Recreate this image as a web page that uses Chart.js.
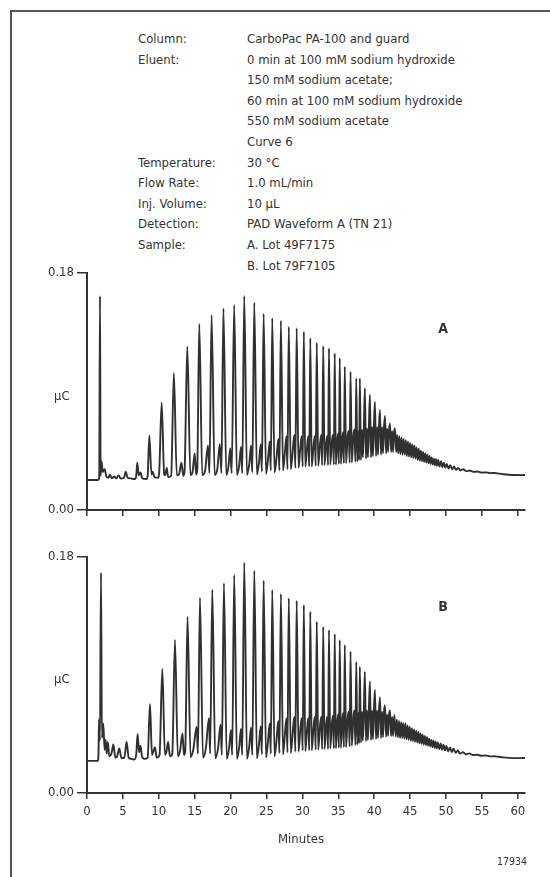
<!DOCTYPE html>
<html>
<head>
<meta charset="utf-8">
<script src="https://cdn.jsdelivr.net/npm/chart.js@4.4.0/dist/chart.umd.min.js"></script>
<style>
  html, body { margin: 0; padding: 0; background: #fff; }
  body {
    width: 550px; height: 877px; position: relative; overflow: hidden;
    font-family: "DejaVu Sans Condensed", "DejaVu Sans", sans-serif;
    font-stretch: condensed; color: #333;
  }
  .frame {
    position: absolute; left: 10px; top: 10px; width: 600px; height: 900px;
    border-left: 2px solid #555; border-top: 2px solid #555;
  }
  .txt { position: absolute; font-size: 13px; line-height: 1; white-space: nowrap; transform: translateY(-50%); }
  .tag { position: absolute; font-size: 14px; font-weight: bold; line-height: 1; transform: translate(-50%, -50%); }
  canvas { position: absolute; left: 0; }
</style>
</head>
<body>
<div class="frame"></div>
<div id="method"></div>

<canvas id="chartA" width="550" height="270" style="top:260px"></canvas>
<canvas id="chartB" width="550" height="300" style="top:545px"></canvas>

<div class="txt" style="left:54px; top:395px;">µC</div>
<div class="txt" style="left:54px; top:678px;">µC</div>
<div class="tag" style="left:443px; top:328px;">A</div>
<div class="tag" style="left:443px; top:606px;">B</div>
<div class="txt" style="left:278px; top:838px;">Minutes</div>
<div class="txt" style="left:497px; top:861px; font-size:10.5px;">17934</div>

<script>
// method block
const methodLabels = ['Column:', 'Eluent:', '', '', '', '', 'Temperature:', 'Flow Rate:', 'Inj. Volume:', 'Detection:', 'Sample:', ''];
const methodValues = [
  'CarboPac PA-100 and guard',
  '0 min at 100 mM sodium hydroxide',
  '150 mM sodium acetate;',
  '60 min at 100 mM sodium hydroxide',
  '550 mM sodium acetate',
  'Curve 6',
  '30 °C',
  '1.0 mL/min',
  '10 µL',
  'PAD Waveform A (TN 21)',
  'A. Lot 49F7175',
  'B. Lot 79F7105'
];

// axis ticks
const minuteTicks = [0, 5, 10, 15, 20, 25, 30, 35, 40, 45, 50, 55, 60];
const chargeTicks = [0, 0.18];

// chromatogram A (minutes, µC)
const timesA = [
  0.00, 1.55, 1.70, 1.81, 1.90, 2.02, 2.20, 2.45, 2.70, 3.00, 3.20, 3.45, 3.80, 4.05, 4.40, 4.70,
  5.15, 5.40, 5.65, 6.10, 6.60, 6.85, 7.00, 7.20, 7.45, 7.70, 8.30, 8.45, 8.68, 8.98, 9.15, 9.40,
  9.90, 10.05, 10.40, 10.75, 10.90, 11.10, 11.30, 11.72, 12.10, 12.50, 12.80, 13.15, 13.40, 13.58, 13.97, 14.40,
  14.70, 15.00, 15.20, 15.35, 15.64, 16.05, 16.45, 16.85, 17.05, 17.35, 17.78, 18.15, 18.50, 18.72, 19.00, 19.40,
  19.70, 19.95, 20.15, 20.50, 20.88, 21.20, 21.45, 21.62, 21.90, 22.28, 22.60, 22.85, 23.02, 23.30, 23.66, 23.95,
  24.20, 24.36, 24.60, 24.93, 25.20, 25.45, 25.60, 25.80, 26.12, 26.40, 26.65, 26.80, 27.00, 27.30, 27.55, 27.78,
  27.92, 28.10, 28.38, 28.65, 28.87, 29.02, 29.20, 29.46, 29.70, 29.90, 30.04, 30.20, 30.40, 30.65, 30.82, 30.95,
  31.10, 31.30, 31.55, 31.72, 31.85, 32.00, 32.20, 32.45, 32.62, 32.75, 32.90, 33.08, 33.30, 33.45, 33.57, 33.70,
  33.88, 34.10, 34.25, 34.38, 34.50, 34.66, 34.85, 34.98, 35.08, 35.20, 35.36, 35.55, 35.68, 35.78, 35.90, 36.08,
  36.30, 36.45, 36.58, 36.70, 36.88, 37.10, 37.25, 37.38, 37.50, 37.65, 37.80, 37.90, 38.00, 38.15, 38.30, 38.42,
  38.55, 38.70, 38.85, 39.00, 39.12, 39.25, 39.40, 39.55, 39.70, 39.82, 39.95, 40.10, 40.25, 40.40, 40.52, 40.65,
  40.80, 40.95, 41.10, 41.22, 41.35, 41.50, 41.65, 41.80, 41.92, 42.05, 42.20, 42.35, 42.50, 42.62, 42.75, 42.90,
  43.05, 43.20, 43.35, 43.50, 43.65, 43.80, 43.95, 44.10, 44.25, 44.40, 44.55, 44.70, 44.85, 45.00, 45.15, 45.30,
  45.45, 45.60, 45.75, 45.90, 46.05, 46.20, 46.35, 46.50, 46.65, 46.80, 46.95, 47.10, 47.25, 47.40, 47.55, 47.70,
  47.85, 48.00, 48.15, 48.30, 48.45, 48.60, 48.75, 48.90, 49.10, 49.30, 49.50, 49.70, 49.90, 50.10, 50.35, 50.60,
  50.85, 51.10, 51.40, 51.70, 52.00, 52.40, 52.80, 53.30, 53.80, 54.40, 55.00, 55.60, 56.20, 56.80, 57.40, 58.00,
  58.80, 59.60, 60.40, 61.00
];
const signalA = [
  0.0228, 0.0228, 0.0245, 0.1625, 0.0260, 0.0370, 0.0290, 0.0310, 0.0255, 0.0245, 0.0270, 0.0240, 0.0255, 0.0240, 0.0262, 0.0238,
  0.0245, 0.0290, 0.0245, 0.0240, 0.0235, 0.0255, 0.0360, 0.0265, 0.0285, 0.0240, 0.0235, 0.0260, 0.0565, 0.0270, 0.0290, 0.0250,
  0.0245, 0.0280, 0.0815, 0.0270, 0.0265, 0.0320, 0.0250, 0.0260, 0.1040, 0.0265, 0.0270, 0.0360, 0.0260, 0.0290, 0.1240, 0.0265,
  0.0290, 0.0430, 0.0270, 0.0300, 0.1413, 0.0265, 0.0300, 0.0490, 0.0280, 0.1480, 0.0265, 0.0310, 0.0500, 0.0280, 0.1530, 0.0265,
  0.0330, 0.0470, 0.0280, 0.1557, 0.0265, 0.0340, 0.0480, 0.0280, 0.1625, 0.0265, 0.0350, 0.0490, 0.0285, 0.1575, 0.0270, 0.0360,
  0.0500, 0.0290, 0.1490, 0.0275, 0.0380, 0.0520, 0.0300, 0.1456, 0.0285, 0.0400, 0.0540, 0.0300, 0.1438, 0.0300, 0.0430, 0.0560,
  0.0310, 0.1392, 0.0310, 0.0450, 0.0570, 0.0320, 0.1380, 0.0320, 0.0470, 0.0560, 0.0330, 0.1354, 0.0330, 0.0480, 0.0560, 0.0330,
  0.1304, 0.0330, 0.0490, 0.0560, 0.0335, 0.1270, 0.0335, 0.0500, 0.0570, 0.0340, 0.1245, 0.0340, 0.0510, 0.0560, 0.0340, 0.1228,
  0.0345, 0.0520, 0.0570, 0.0345, 0.1190, 0.0345, 0.0530, 0.0580, 0.0350, 0.1152, 0.0350, 0.0540, 0.0590, 0.0355, 0.1089, 0.0355,
  0.0560, 0.0600, 0.0360, 0.1050, 0.0360, 0.0570, 0.0610, 0.0365, 0.1000, 0.0370, 0.0600, 0.0380, 0.1000, 0.0380, 0.0610, 0.0400,
  0.0600, 0.0925, 0.0390, 0.0620, 0.0400, 0.0610, 0.0873, 0.0400, 0.0630, 0.0410, 0.0620, 0.0820, 0.0410, 0.0630, 0.0420, 0.0620,
  0.0760, 0.0420, 0.0630, 0.0430, 0.0620, 0.0714, 0.0430, 0.0620, 0.0440, 0.0600, 0.0658, 0.0440, 0.0600, 0.0440, 0.0580, 0.0620,
  0.0440, 0.0570, 0.0430, 0.0560, 0.0425, 0.0550, 0.0420, 0.0540, 0.0420, 0.0530, 0.0410, 0.0520, 0.0405, 0.0510, 0.0400, 0.0500,
  0.0395, 0.0490, 0.0390, 0.0475, 0.0380, 0.0465, 0.0375, 0.0450, 0.0370, 0.0440, 0.0365, 0.0430, 0.0360, 0.0420, 0.0355, 0.0410,
  0.0350, 0.0400, 0.0345, 0.0390, 0.0340, 0.0385, 0.0335, 0.0380, 0.0330, 0.0370, 0.0325, 0.0360, 0.0320, 0.0350, 0.0315, 0.0340,
  0.0310, 0.0330, 0.0305, 0.0320, 0.0300, 0.0310, 0.0295, 0.0300, 0.0290, 0.0292, 0.0284, 0.0286, 0.0280, 0.0281, 0.0276, 0.0272,
  0.0268, 0.0266, 0.0265, 0.0266
];

// chromatogram B (minutes, µC)
const timesB = [
  0.00, 1.50, 1.60, 1.67, 1.80, 1.95, 2.08, 2.27, 2.45, 2.60, 2.75, 2.90, 3.10, 3.40, 3.67, 3.95,
  4.20, 4.50, 4.80, 5.20, 5.52, 5.80, 6.20, 6.60, 6.85, 7.05, 7.25, 7.45, 7.65, 8.00, 8.45, 8.77,
  9.05, 9.25, 9.47, 9.70, 10.10, 10.49, 10.85, 11.05, 11.30, 11.55, 11.88, 12.25, 12.65, 12.95, 13.30, 13.50,
  13.68, 14.00, 14.42, 14.80, 15.27, 15.45, 15.73, 16.15, 16.55, 16.99, 17.15, 17.45, 17.86, 18.25, 18.60, 18.78,
  19.07, 19.46, 19.80, 20.05, 20.22, 20.50, 20.88, 21.20, 21.45, 21.62, 21.90, 22.28, 22.60, 22.85, 23.02, 23.30,
  23.66, 23.95, 24.20, 24.36, 24.60, 24.93, 25.20, 25.45, 25.60, 25.80, 26.12, 26.40, 26.65, 26.80, 27.00, 27.30,
  27.55, 27.78, 27.92, 28.10, 28.38, 28.65, 28.87, 29.02, 29.20, 29.46, 29.70, 29.90, 30.04, 30.20, 30.40, 30.65,
  30.82, 30.95, 31.10, 31.30, 31.55, 31.72, 31.85, 32.00, 32.20, 32.45, 32.62, 32.75, 32.90, 33.08, 33.30, 33.45,
  33.57, 33.70, 33.88, 34.10, 34.25, 34.38, 34.50, 34.66, 34.85, 34.98, 35.08, 35.20, 35.36, 35.55, 35.68, 35.78,
  35.90, 36.08, 36.30, 36.45, 36.58, 36.70, 36.88, 37.10, 37.25, 37.38, 37.50, 37.65, 37.80, 37.90, 38.00, 38.15,
  38.30, 38.42, 38.55, 38.70, 38.85, 39.00, 39.12, 39.25, 39.40, 39.55, 39.70, 39.82, 39.95, 40.10, 40.25, 40.40,
  40.52, 40.65, 40.80, 40.95, 41.10, 41.22, 41.35, 41.50, 41.65, 41.80, 41.92, 42.05, 42.20, 42.35, 42.50, 42.62,
  42.80, 43.00, 43.15, 43.30, 43.45, 43.60, 43.75, 43.90, 44.05, 44.20, 44.35, 44.50, 44.65, 44.80, 44.95, 45.10,
  45.25, 45.40, 45.55, 45.70, 45.85, 46.00, 46.15, 46.30, 46.45, 46.60, 46.75, 46.90, 47.05, 47.20, 47.35, 47.50,
  47.65, 47.80, 47.95, 48.10, 48.25, 48.40, 48.55, 48.70, 48.85, 49.05, 49.25, 49.45, 49.65, 49.85, 50.05, 50.30,
  50.55, 50.80, 51.05, 51.35, 51.65, 51.95, 52.35, 52.75, 53.25, 53.75, 54.35, 54.95, 55.55, 56.15, 56.75, 57.35,
  57.95, 58.75, 59.55, 60.35, 61.00
];
const signalB = [
  0.0245, 0.0245, 0.0300, 0.0562, 0.0400, 0.1680, 0.0420, 0.0530, 0.0330, 0.0404, 0.0300, 0.0390, 0.0280, 0.0300, 0.0370, 0.0270,
  0.0280, 0.0340, 0.0265, 0.0270, 0.0390, 0.0270, 0.0260, 0.0255, 0.0290, 0.0450, 0.0310, 0.0360, 0.0280, 0.0260, 0.0270, 0.0679,
  0.0290, 0.0320, 0.0350, 0.0270, 0.0290, 0.0946, 0.0290, 0.0310, 0.0390, 0.0280, 0.0300, 0.1167, 0.0280, 0.0320, 0.0455, 0.0290,
  0.0320, 0.1345, 0.0275, 0.0330, 0.0506, 0.0300, 0.1490, 0.0270, 0.0340, 0.0570, 0.0300, 0.1550, 0.0265, 0.0340, 0.0520, 0.0290,
  0.1600, 0.0260, 0.0350, 0.0480, 0.0290, 0.1663, 0.0260, 0.0350, 0.0490, 0.0290, 0.1757, 0.0260, 0.0360, 0.0500, 0.0290, 0.1696,
  0.0265, 0.0370, 0.0510, 0.0295, 0.1620, 0.0270, 0.0390, 0.0530, 0.0300, 0.1548, 0.0280, 0.0410, 0.0550, 0.0305, 0.1518, 0.0295,
  0.0440, 0.0570, 0.0310, 0.1485, 0.0305, 0.0460, 0.0580, 0.0315, 0.1467, 0.0315, 0.0480, 0.0570, 0.0325, 0.1434, 0.0320, 0.0490,
  0.0570, 0.0325, 0.1383, 0.0325, 0.0500, 0.0580, 0.0330, 0.1307, 0.0330, 0.0510, 0.0580, 0.0335, 0.1268, 0.0335, 0.0520, 0.0580,
  0.0335, 0.1243, 0.0340, 0.0530, 0.0590, 0.0340, 0.1213, 0.0340, 0.0540, 0.0600, 0.0345, 0.1167, 0.0345, 0.0550, 0.0610, 0.0350,
  0.1129, 0.0350, 0.0570, 0.0620, 0.0355, 0.1078, 0.0360, 0.0580, 0.0630, 0.0365, 0.1000, 0.0370, 0.0610, 0.0380, 0.0963, 0.0385,
  0.0620, 0.0400, 0.0610, 0.0925, 0.0395, 0.0630, 0.0405, 0.0620, 0.0850, 0.0405, 0.0630, 0.0410, 0.0620, 0.0786, 0.0410, 0.0630,
  0.0420, 0.0620, 0.0730, 0.0420, 0.0620, 0.0425, 0.0610, 0.0670, 0.0430, 0.0600, 0.0435, 0.0590, 0.0630, 0.0435, 0.0580, 0.0435,
  0.0595, 0.0430, 0.0560, 0.0425, 0.0550, 0.0420, 0.0540, 0.0420, 0.0535, 0.0415, 0.0530, 0.0410, 0.0515, 0.0405, 0.0505, 0.0400,
  0.0495, 0.0395, 0.0485, 0.0390, 0.0475, 0.0385, 0.0465, 0.0380, 0.0455, 0.0375, 0.0445, 0.0370, 0.0435, 0.0365, 0.0425, 0.0360,
  0.0415, 0.0355, 0.0405, 0.0350, 0.0398, 0.0345, 0.0392, 0.0340, 0.0386, 0.0335, 0.0378, 0.0330, 0.0368, 0.0325, 0.0358, 0.0318,
  0.0348, 0.0312, 0.0338, 0.0306, 0.0325, 0.0300, 0.0312, 0.0295, 0.0302, 0.0290, 0.0292, 0.0284, 0.0286, 0.0279, 0.0280, 0.0276,
  0.0272, 0.0268, 0.0266, 0.0266, 0.0268
];

const fontFamily = "'DejaVu Sans Condensed', 'DejaVu Sans', sans-serif";
const ink = '#333';

// method text
const methodBox = document.getElementById('method');
methodLabels.forEach((label, i) => {
  const y = 38 + i * 20.6;
  methodBox.insertAdjacentHTML('beforeend',
    `<div class="txt" style="left:138px; top:${y}px;">${label}</div>` +
    `<div class="txt" style="left:247px; top:${y}px;">${methodValues[i]}</div>`);
});

function makeChart(id, times, signal, showMinutes, padTop, xAxisHeight) {
  const points = times.map((t, i) => ({ x: t, y: signal[i] }));
  return new Chart(document.getElementById(id), {
    type: 'line',
    data: {
      datasets: [{
        data: points,
        borderColor: '#303030',
        borderWidth: 1.9,
        pointRadius: 0,
        cubicInterpolationMode: 'monotone',
        fill: false
      }]
    },
    options: {
      responsive: false,
      animation: false,
      events: [],
      layout: { padding: { left: 0, right: 25, top: padTop, bottom: 0 } },
      plugins: { legend: { display: false }, tooltip: { enabled: false } },
      scales: {
        x: {
          type: 'linear', min: 0, max: 61,
          afterBuildTicks: (s) => { s.ticks = minuteTicks.map(v => ({ value: v })); },
          afterFit: (s) => { s.height = xAxisHeight; },
          grid: { drawOnChartArea: false, drawTicks: true, tickLength: 6, color: ink, lineWidth: 1.5 },
          border: { display: true, color: ink, width: 2 },
          ticks: {
            display: showMinutes, autoSkip: false, maxRotation: 0, padding: 5,
            color: ink, font: { family: fontFamily, size: 13 }
          }
        },
        y: {
          min: 0, max: 0.18,
          afterBuildTicks: (s) => { s.ticks = chargeTicks.map(v => ({ value: v })); },
          afterFit: (s) => { s.width = 87; },
          grid: { drawOnChartArea: false, drawTicks: true, tickLength: 10, color: ink, lineWidth: 1.5 },
          border: { display: true, color: ink, width: 2 },
          ticks: {
            padding: 3, color: ink, font: { family: fontFamily, size: 13 },
            callback: (v) => Number(v).toFixed(2)
          }
        }
      }
    }
  });
}

const chartA = makeChart('chartA', timesA, signalA, false, 13, 20);
const chartB = makeChart('chartB', timesB, signalB, true, 12, 52);
</script>
</body>
</html>
